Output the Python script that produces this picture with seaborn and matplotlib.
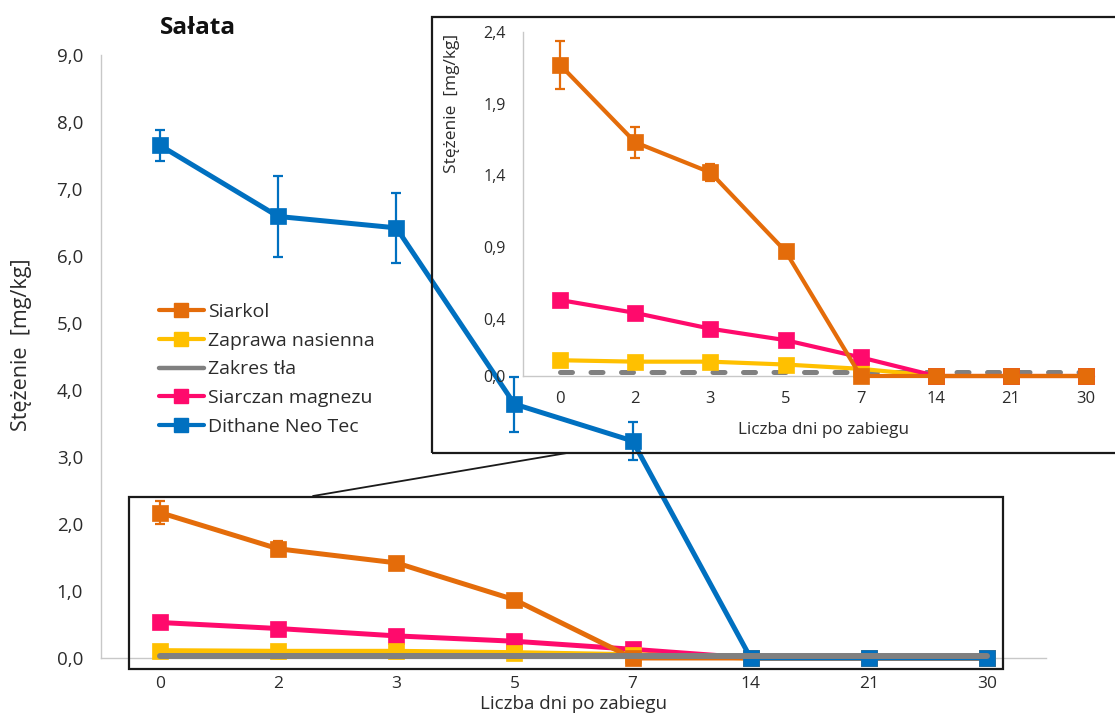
import matplotlib
matplotlib.use("Agg")
import matplotlib.pyplot as plt
from matplotlib.lines import Line2D
from matplotlib.patches import Rectangle
import numpy as np
import pandas as pd
import seaborn as sns

# ---- data -------------------------------------------------------------
days = ["0", "2", "3", "5", "7", "14", "21", "30"]

siarkol = [2.17, 1.63, 1.42, 0.87, 0.0, 0.0, 0.0, 0.0]
siarkol_err = [0.17, 0.11, 0.06, 0.02, 0.0, 0.0, 0.0, 0.0]
zaprawa = [0.11, 0.10, 0.10, 0.08, 0.05, 0.0, 0.0, 0.0]
zakres_tla = [0.025, 0.025, 0.025, 0.025, 0.025, 0.025, 0.025, 0.025]
siarczan = [0.53, 0.44, 0.33, 0.25, 0.13, 0.0, 0.0, 0.0]
dithane = [7.65, 6.59, 6.42, 3.79, 3.24, 0.0, 0.0, 0.0]
dithane_err = [0.23, 0.60, 0.52, 0.41, 0.28, 0.0, 0.0, 0.0]

main_yticks = [0, 1, 2, 3, 4, 5, 6, 7, 8, 9]
inset_yticks = [0.0, 0.4, 0.9, 1.4, 1.9, 2.4]

series = {
    "Siarkol": siarkol,
    "Zaprawa nasienna": zaprawa,
    "Zakres tła": zakres_tla,
    "Siarczan magnezu": siarczan,
    "Dithane Neo Tec": dithane,
}
colors = {
    "Siarkol": "#E46C0A",
    "Zaprawa nasienna": "#FFC000",
    "Zakres tła": "#808080",
    "Siarczan magnezu": "#FF0A6C",
    "Dithane Neo Tec": "#0070C0",
}

pos = np.arange(len(days))
df = pd.concat(
    [pd.DataFrame({"poz": pos, "dzien": days, "seria": k, "wartosc": v}) for k, v in series.items()],
    ignore_index=True,
)

# ---- style ------------------------------------------------------------
sns.set_theme(style="white")
plt.rcParams["font.family"] = ["Open Sans", "DejaVu Sans"]
TXT = "#2b2b2b"
AXC = "#C8C8C8"

W, H = 1115, 719
fig = plt.figure(figsize=(W / 100, H / 100), dpi=100)


def fx(px):
    return px / W


def fy(py):
    return 1 - py / H


def draw(ax, name, lw, ms, z, marker=True, dashes=None):
    sub = df[df["seria"] == name]
    kw = dict(color=colors[name], linewidth=lw, zorder=z, clip_on=False, legend=False)
    if marker:
        kw.update(marker="s", markersize=ms, markeredgecolor=colors[name], markeredgewidth=0.5)
    line_ax = sns.lineplot(data=sub, x="poz", y="wartosc", ax=ax, **kw)
    if dashes is not None:
        ln = line_ax.lines[-1]
        ln.set_dashes(dashes)
        ln.set_dash_capstyle("round")


def errs(ax, values, err, color, z):
    v = np.asarray(values)
    e = np.asarray(err)
    m = e > 0
    ax.errorbar(pos[m], v[m], yerr=e[m], fmt="none", ecolor=color, elinewidth=1.6,
                capsize=3.3, capthick=1.6, zorder=z, clip_on=False)


def style_axes(ax, yticks, fs_y, fs_x, pad_y, pad_x):
    ax.set_facecolor("none")
    ax.set_xlim(-0.5, len(days) - 0.5)
    for s in ("top", "right"):
        ax.spines[s].set_visible(False)
    for s in ("left", "bottom"):
        ax.spines[s].set_color(AXC)
        ax.spines[s].set_linewidth(1.0)
    ax.set_xticks(pos)
    ax.set_xticklabels(days)
    ax.set_yticks(yticks)
    ax.set_yticklabels([f"{t:.1f}".replace(".", ",") for t in yticks])
    ax.tick_params(axis="y", length=0, labelsize=fs_y, pad=pad_y, colors=TXT)
    ax.tick_params(axis="x", length=0, labelsize=fs_x, pad=pad_x, colors=TXT)
    ax.grid(False)


# ---- main chart -------------------------------------------------------
ax = fig.add_axes([fx(101), fy(658), (1046 - 101) / W, (658 - 55) / H])
ax.set_ylim(0, 9)
style_axes(ax, main_yticks, 13.5, 12.5, 13, 13)

draw(ax, "Siarczan magnezu", 3.6, 11.5, 3)
draw(ax, "Zaprawa nasienna", 3.6, 11.5, 4)
errs(ax, siarkol, siarkol_err, colors["Siarkol"], 4.5)
draw(ax, "Siarkol", 3.6, 11.5, 5)
errs(ax, dithane, dithane_err, colors["Dithane Neo Tec"], 5.5)
draw(ax, "Dithane Neo Tec", 3.6, 11.5, 6)
draw(ax, "Zakres tła", 4.3, 0, 7, marker=False)

ax.set_xlabel("Liczba dni po zabiegu", fontsize=13.5, color=TXT, va="center")
ax.xaxis.set_label_coords(0.5, (658 - 704) / 603)
ax.set_ylabel("Stężenie  [mg/kg]", fontsize=15.5, color=TXT, va="center", ha="center")
ax.yaxis.set_label_coords((22 - 101) / 945, (658 - 345) / 603)

# frame around the low-concentration region
ax.add_patch(Rectangle((-0.26, -0.165), 7.40, 2.565, fill=False, edgecolor="#1a1a1a",
                       linewidth=1.6, zorder=8, clip_on=False))

fig.text(fx(198), fy(28), "Sałata", fontsize=17.5, fontweight="bold", color="#111111",
         ha="center", va="center")

# legend
handles = []
for name in series:
    if name == "Zakres tła":
        handles.append(Line2D([], [], color=colors[name], linewidth=3.2))
    else:
        handles.append(Line2D([], [], color=colors[name], linewidth=3.0, marker="s",
                              markersize=9.5, markeredgecolor=colors[name]))
leg = fig.legend(handles, list(series.keys()), loc="upper left",
                 bbox_to_anchor=(fx(159), fy(303)), frameon=False, fontsize=14,
                 handlelength=2.3, handletextpad=0.2, labelspacing=0.55, borderpad=0,
                 borderaxespad=0)
for t in leg.get_texts():
    t.set_color(TXT)

# ---- inset (zoomed) ---------------------------------------------------
axi = fig.add_axes([fx(522.6), fy(376), (1123.6 - 522.6) / W, (376 - 32) / H])
axi.set_ylim(0, 2.4)
style_axes(axi, inset_yticks, 11.5, 12, 12, 11)
axi.spines["bottom"].set_bounds(-0.5, 7.1)

draw(axi, "Zakres tła", 3.6, 0, 2, marker=False, dashes=(2.4, 3.7))
draw(axi, "Zaprawa nasienna", 3.0, 11.5, 3)
draw(axi, "Siarczan magnezu", 3.0, 11.5, 4)
errs(axi, siarkol, siarkol_err, colors["Siarkol"], 4.5)
draw(axi, "Siarkol", 3.0, 11.5, 5)

axi.set_xlabel("Liczba dni po zabiegu", fontsize=12.3, color=TXT, va="center")
axi.xaxis.set_label_coords((823 - 522.6) / 601, (376 - 430) / 344)
axi.set_ylabel("Stężenie  [mg/kg]", fontsize=12.5, color=TXT, va="center", ha="center")
axi.yaxis.set_label_coords((452 - 522.6) / 601, (376 - 103) / 344)

# inset frame and connector
fig.add_artist(Rectangle((fx(432), fy(453)), fx(1130) - fx(432), fy(17) - fy(453),
                         transform=fig.transFigure, fill=False, edgecolor="#1a1a1a",
                         linewidth=1.6, zorder=9))
fig.add_artist(Line2D([fx(313), fx(567)], [fy(496), fy(453)], transform=fig.transFigure,
                      color="#1a1a1a", linewidth=1.3, zorder=9))

fig.savefig("out.png", dpi=100)
